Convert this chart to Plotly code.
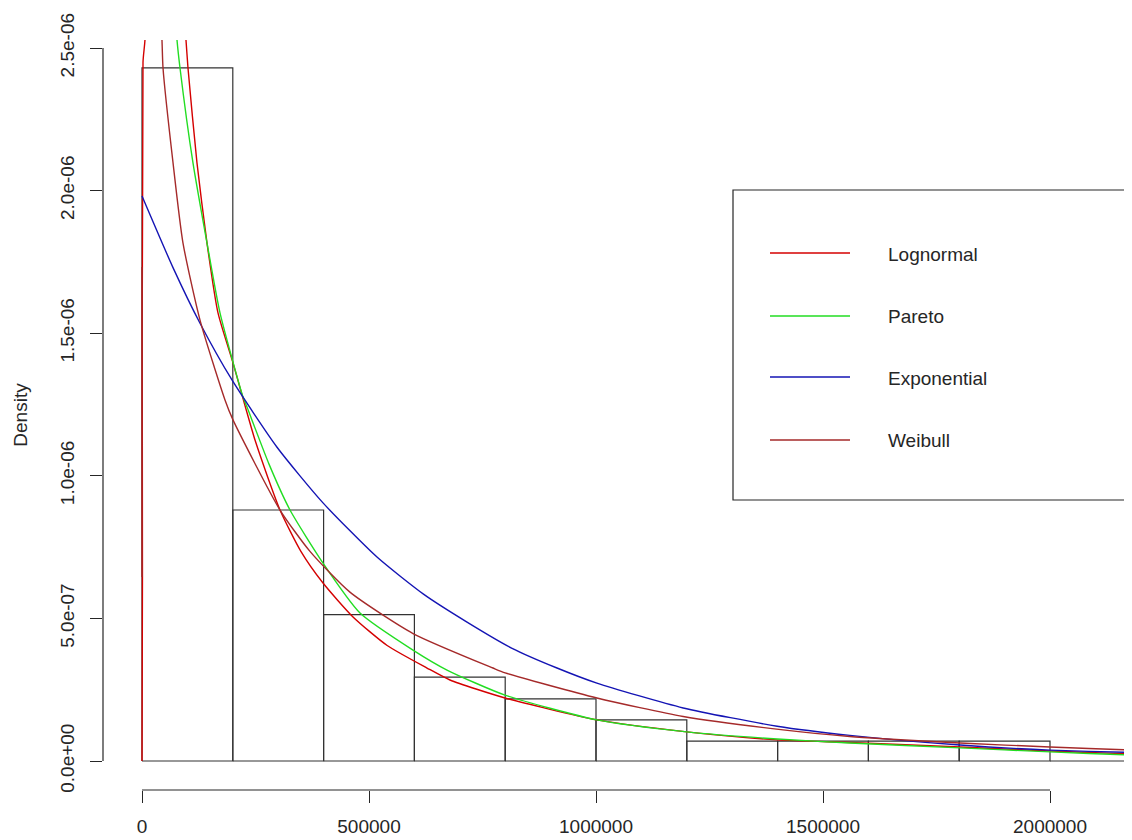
import plotly.graph_objects as go

# ---------------- data ----------------
bin_edges = [0, 200000, 400000, 600000, 800000, 1000000, 1200000, 1400000,
             1600000, 1800000, 2000000, 2200000, 2400000]
bin_density = [2.43e-6, 0.880e-6, 0.513e-6, 0.294e-6, 0.218e-6, 0.144e-6,
               0.070e-6, 0.070e-6, 0.070e-6, 0.070e-6, 0.0, 0.0]

lognormal_x = [0, 1000, 2200, 6600, 20000, 45000, 70000, 96900, 101300, 121100,
               143200, 167400, 200400, 250000, 304000, 350000, 398700, 464800,
               540000, 627800, 678400, 799600, 1002000, 1200000, 1399000,
               1559000, 1802000, 2000000, 2176000, 2250000]
lognormal_y = [0, 0.65e-6, 2.45e-6, 2.53e-6, 3.6e-6, 3.8e-6, 3.1e-6, 2.528e-6,
               2.43e-6, 2.097e-6, 1.816e-6, 1.571e-6, 1.396e-6, 1.12e-6,
               0.880e-6, 0.735e-6, 0.624e-6, 0.505e-6, 0.405e-6, 0.326e-6,
               0.284e-6, 0.221e-6, 0.144e-6, 0.102e-6, 0.074e-6, 0.065e-6,
               0.049e-6, 0.035e-6, 0.025e-6, 0.022e-6]

pareto_x = [20000, 40000, 60000, 77100, 83700, 112300, 143200, 171800, 222500,
            231300, 280000, 326000, 398700, 480200, 596900, 671800, 799600,
            1002000, 1200000, 1399000, 1559000, 1802000, 2000000, 2176000,
            2250000]
pareto_y = [5.0e-6, 3.6e-6, 2.95e-6, 2.528e-6, 2.43e-6, 2.097e-6, 1.816e-6,
            1.571e-6, 1.276e-6, 1.241e-6, 1.04e-6, 0.880e-6, 0.694e-6,
            0.519e-6, 0.389e-6, 0.319e-6, 0.231e-6, 0.144e-6, 0.102e-6,
            0.077e-6, 0.063e-6, 0.046e-6, 0.032e-6, 0.021e-6, 0.019e-6]

exponential_x = [0, 68300, 127800, 198200, 297000, 398700, 517600, 620000,
                 715900, 814000, 914100, 1002000, 1192000, 1399000, 1559000,
                 1802000, 2000000, 2176000, 2250000]
exponential_y = [1.981e-6, 1.730e-6, 1.535e-6, 1.336e-6, 1.101e-6, 0.905e-6,
                 0.715e-6, 0.585e-6, 0.487e-6, 0.396e-6, 0.326e-6, 0.273e-6,
                 0.186e-6, 0.122e-6, 0.090e-6, 0.056e-6, 0.038e-6, 0.030e-6,
                 0.027e-6]

weibull_x = [0, 0, None, 5000, 30000, 44000, 46300, 68300, 90300, 127800,
             182800, 200400, 304000, 370000, 458000, 597000, 773000, 800000,
             1002000, 1192000, 1412000, 1559000, 1632000, 1802000, 2000000,
             2176000, 2250000]
weibull_y = [0.645e-6, 1.732e-6, None, 8.0e-6, 3.0e-6, 2.528e-6, 2.43e-6,
             2.098e-6, 1.816e-6, 1.546e-6, 1.266e-6, 1.196e-6, 0.880e-6,
             0.735e-6, 0.592e-6, 0.447e-6, 0.326e-6, 0.309e-6, 0.221e-6,
             0.156e-6, 0.109e-6, 0.086e-6, 0.078e-6, 0.063e-6, 0.049e-6,
             0.039e-6, 0.036e-6]

x_tickvals = [0, 500000, 1000000, 1500000, 2000000]
x_ticktext = ["0", "500000", "1000000", "1500000", "2000000"]
y_tickvals = [0, 0.5e-6, 1.0e-6, 1.5e-6, 2.0e-6, 2.5e-6]
y_ticktext = ["0.0e+00", "5.0e-07", "1.0e-06", "1.5e-06", "2.0e-06", "2.5e-06"]

legend_names = ["Lognormal", "Pareto", "Exponential", "Weibull"]
colors = ["#D40000", "#22DD22", "#1414B4", "#A52A2A"]

# ---------------- figure ----------------
OFF = 8  # page body margin in the browser
W, H = 1132 - OFF, 840 - OFF
ML, MR, MT, MB = 103 - OFF, 0, 40 - OFF, 50
FONT = "Liberation Sans, Arial, sans-serif"
INK = "#262626"

fig = go.Figure()

# histogram outline built from bins
hx, hy = [], []
for i, d in enumerate(bin_density):
    x0, x1 = bin_edges[i], bin_edges[i + 1]
    hx += [x0, x0, x1, x1, x0, None]
    hy += [0, d, d, 0, 0, None]
fig.add_trace(go.Scatter(x=hx, y=hy, mode="lines",
                         line=dict(color="#333333", width=1.2),
                         showlegend=False, hoverinfo="skip"))

series = [(lognormal_x, lognormal_y), (pareto_x, pareto_y),
          (exponential_x, exponential_y), (weibull_x, weibull_y)]
for (sx, sy), name, c in zip(series, legend_names, colors):
    fig.add_trace(go.Scatter(x=sx, y=sy, mode="lines", name=name,
                             line=dict(color=c, width=1.4, shape="spline",
                                       smoothing=0.6),
                             showlegend=False))

plot_w = W - ML - MR
plot_h = H - MT - MB
px_per_unit = 454e-6
x0_px = 142 - OFF
y0_px = 761 - OFF
px_per_dens = 285.2e6
xr = [(ML - x0_px) / px_per_unit, (W - MR - x0_px) / px_per_unit]
yr = [-(H - MB - y0_px) / px_per_dens, (y0_px - MT) / px_per_dens]

fig.update_xaxes(range=xr, tickvals=x_tickvals, ticktext=x_ticktext,
                 ticks="outside", ticklen=12, tickwidth=1.2, tickcolor=INK,
                 showline=False, showgrid=False, zeroline=False,
                 ticklabelstandoff=7,
                 tickfont=dict(family=FONT, size=19, color=INK))
fig.update_yaxes(range=yr, tickvals=y_tickvals, ticktext=y_ticktext,
                 ticks="outside", ticklen=12, tickwidth=1.2, tickcolor=INK,
                 tickangle=-90,
                 showline=False, showgrid=False, zeroline=False,
                 ticklabelstandoff=8,
                 tickfont=dict(family=FONT, size=19, color=INK),
                 title=dict(text="Density", standoff=24,
                            font=dict(family=FONT, size=19, color=INK)))

shapes = []
# R-style detached axis lines
shapes.append(dict(type="line", xref="x", yref="paper", x0=x_tickvals[0],
                   x1=x_tickvals[-1], y0=0, y1=0,
                   line=dict(color=INK, width=1.2)))
shapes.append(dict(type="line", xref="paper", yref="y", x0=0, x1=0,
                   y0=y_tickvals[0], y1=y_tickvals[-1],
                   line=dict(color=INK, width=1.2)))


def px_x(p):
    return (p - OFF - ML) / plot_w


def px_y(p):
    return (H - MB - (p - OFF)) / plot_h


# legend box
shapes.append(dict(type="rect", xref="paper", yref="paper",
                   x0=px_x(733), x1=px_x(1128), y0=px_y(500), y1=px_y(190),
                   line=dict(color=INK, width=1.2), fillcolor="rgba(0,0,0,0)"))
annotations = []
legend_rows = [253, 316, 377, 440]
for name, c, ry in zip(legend_names, colors, legend_rows):
    shapes.append(dict(type="line", xref="paper", yref="paper",
                       x0=px_x(770), x1=px_x(850), y0=px_y(ry), y1=px_y(ry),
                       line=dict(color=c, width=1.4)))
    annotations.append(dict(xref="paper", yref="paper", x=px_x(886),
                            y=px_y(ry + 1), text=name, showarrow=False,
                            xanchor="left", yanchor="middle",
                            font=dict(family=FONT, size=19, color=INK)))

fig.update_layout(width=W, height=H,
                  margin=dict(l=ML, r=MR, t=MT, b=MB, pad=0, autoexpand=False),
                  paper_bgcolor="white", plot_bgcolor="white",
                  shapes=shapes, annotations=annotations,
                  showlegend=False)

fig.write_html("out.html")
